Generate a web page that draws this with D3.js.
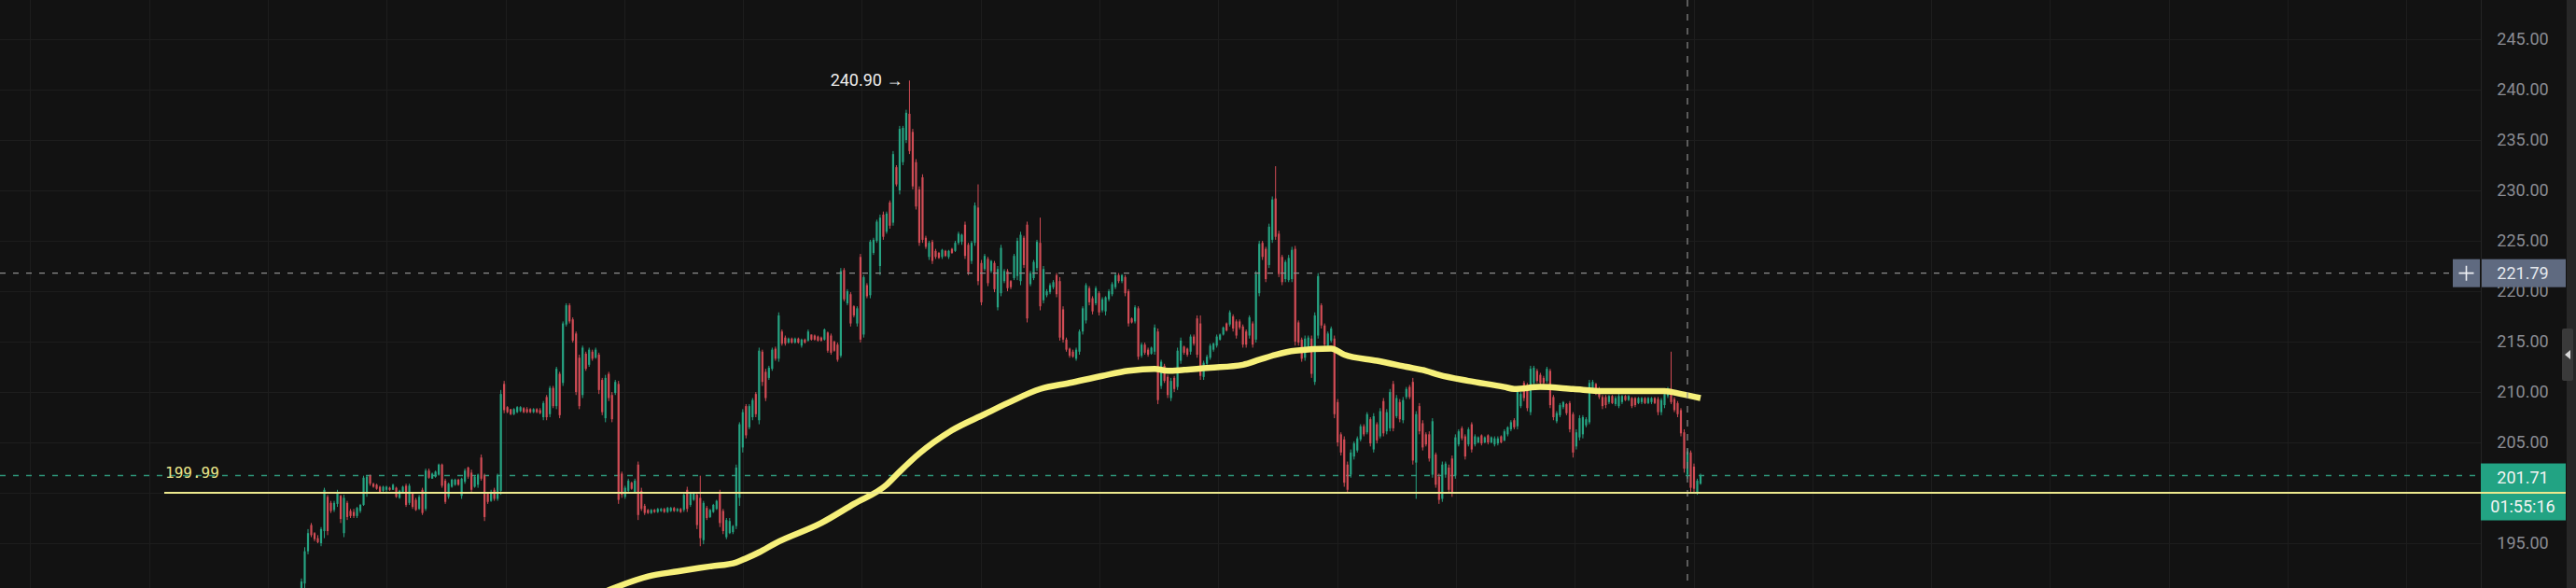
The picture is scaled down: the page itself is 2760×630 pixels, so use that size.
<!DOCTYPE html>
<html>
<head>
<meta charset="utf-8">
<script src="https://cdn.jsdelivr.net/npm/d3@7"></script>
<style>
    html, body { margin: 0; padding: 0; background: #121212; overflow: hidden; }
    svg { display: block; }
</style>
</head>
<body>
<div id="chart"></div>
<script>
// Candles (one per bar), oldest first
const opens = [
    189.0,191.0,194.2,196.8,196.0,195.5,195.0,196.2,199.6,199.0,
    198.3,198.9,199.7,196.0,199.0,198.2,198.1,197.7,198.2,198.8,
    199.9,201.7,200.9,200.8,200.6,200.2,200.3,200.5,200.3,200.5,
    199.5,200.1,200.7,199.0,199.9,199.3,198.4,200.3,198.4,202.2,
    201.4,201.6,201.8,202.8,201.2,199.6,200.6,200.8,201.3,199.7,
    201.1,202.5,202.0,200.6,200.8,203.5,201.7,199.9,199.2,200.3,
    199.4,200.2,210.8,208.5,208.3,207.8,208.0,208.1,208.4,208.3,
    208.3,208.0,208.3,208.2,207.5,209.5,207.8,210.4,208.6,211.8,
    210.9,216.7,218.6,217.2,215.8,213.4,209.7,213.8,212.7,214.0,
    213.4,213.7,211.2,207.4,211.8,209.7,209.9,210.8,201.9,199.6,
    200.2,201.0,200.1,202.8,200.2,198.7,198.3,198.0,198.3,198.1,
    198.2,198.4,198.1,198.2,198.5,198.2,198.4,198.3,200.3,198.8,
    199.3,199.8,199.5,195.3,198.5,197.6,198.1,198.4,200.0,198.2,
    195.6,196.0,196.1,196.7,199.5,204.5,208.6,206.5,207.5,209.8,
    207.2,214.0,
    212.0,211.4,212.3,214.3,213.3,216.0,215.4,214.9,215.3,214.9,
    215.3,214.6,215.2,215.1,215.7,215.6,215.5,215.4,215.2,215.9,
    215.6,215.0,214.7,213.6,222.1,218.8,219.7,218.5,216.8,223.4,
    215.7,220.6,219.6,223.8,225.0,222.5,227.6,225.9,228.8,226.8,
    232.3,230.0,232.8,235.0,237.6,235.8,232.8,230.1,231.3,225.3,
    223.4,224.9,224.0,223.8,223.4,224.0,223.4,224.2,224.0,224.8,
    224.9,226.6,224.6,223.0,224.8,228.3,222.8,222.2,223.2,222.0,
    222.8,218.4,219.8,221.0,222.0,
    221.0,221.3,221.5,221.0,225.3,226.6,220.7,221.3,222.3,224.8,
    219.1,219.6,219.9,220.4,221.6,221.0,218.2,215.2,214.3,214.0,
    213.3,214.0,216.0,217.1,220.3,219.3,218.8,219.8,218.1,218.0,
    219.2,219.7,220.4,221.6,221.0,221.4,220.0,217.3,217.0,218.3,
    213.6,214.7,214.2,213.8,214.0,216.0,210.6,212.6,211.5,209.4,
    211.4,210.5,213.1,214.5,214.3,214.0,215.5,217.3,216.8,211.5,
    212.8,213.4,214.2,214.6,215.2,215.7,216.8,216.7,217.5,217.0,
    217.0,216.5,216.0,215.6,
    216.8,215.2,219.8,224.8,224.2,222.6,225.1,229.2,225.7,223.4,
    221.2,221.1,221.2,224.2,216.9,215.2,213.4,214.2,215.3,211.0,
    215.6,218.6,216.6,214.6,215.1,215.3,209.0,205.8,205.3,202.8,
    201.8,203.6,204.2,205.3,206.6,206.0,207.3,204.3,206.8,205.6,
    209.1,206.1,206.4,210.8,207.6,209.0,207.2,209.5,210.5,211.0,
    203.0,208.6,206.9,205.8,205.8,201.8,203.8,201.6,199.4,201.8,
    202.5,203.4,201.7,204.8,206.4,205.6,204.8,206.8,204.8,205.0,
    205.7,205.0,205.7,205.0,
    204.8,204.9,205.6,205.2,205.8,206.3,207.2,206.6,208.6,210.9,
    210.7,208.0,210.9,212.1,211.7,211.4,211.1,212.1,209.5,207.1,
    207.7,208.5,208.8,208.9,207.8,204.6,205.5,205.8,206.7,207.0,
    210.2,210.8,210.3,209.5,209.5,209.0,209.6,208.8,208.6,209.0,
    209.6,209.2,209.4,209.4,208.9,209.0,209.4,208.9,209.0,209.4,
    209.3,208.0,208.7,209.6,210.3,209.3,208.9,208.2,206.0,201.8,
    204.0,202.6,200.0,200.9
];
const highs = [
    191.5,194.6,196.4,197.0,196.1,195.8,196.6,200.5,199.8,199.2,
    199.2,200.3,199.8,199.8,199.2,198.4,198.4,198.6,198.9,201.7,
    201.7,201.8,201.0,200.9,200.7,200.7,200.7,200.6,200.9,200.6,
    200.3,200.7,200.9,200.9,200.0,199.5,199.8,200.5,202.4,202.4,
    202.0,202.2,202.9,202.9,201.4,201.0,201.4,201.4,201.4,201.5,
    202.4,202.6,202.3,201.7,201.9,203.8,201.9,200.1,200.3,200.5,
    201.9,210.2,211.1,208.6,208.3,208.4,208.6,208.6,208.5,208.5,
    208.4,208.4,208.4,208.4,209.1,209.7,210.6,210.6,212.5,212.0,
    217.0,218.8,218.8,217.4,216.0,213.7,214.6,214.0,214.4,214.2,
    214.4,213.9,211.4,211.7,212.0,210.0,211.2,211.1,202.1,200.7,
    201.4,201.1,201.4,203.1,200.5,198.9,198.4,198.4,198.4,198.5,
    198.5,198.5,198.6,198.6,198.6,198.5,198.5,200.0,200.6,200.1,
    200.1,200.0,201.7,199.2,198.7,198.4,198.9,199.3,200.3,198.4,
    197.5,197.5,196.8,202.8,207.0,208.3,208.8,208.8,209.4,210.0,
    214.4,214.2,
    212.3,212.6,214.4,214.5,217.9,216.2,215.6,215.4,215.4,215.4,
    215.4,215.3,215.3,216.2,215.7,215.7,215.6,215.5,216.3,216.0,
    215.8,215.1,214.9,222.3,222.3,220.2,219.9,218.6,218.5,223.7,
    221.6,220.8,225.1,225.3,227.1,227.6,227.9,227.9,229.0,233.9,
    232.5,236.4,236.4,238.0,240.9,236.1,233.1,230.4,231.6,225.5,
    225.0,225.1,224.2,223.9,224.2,224.1,224.1,224.3,225.0,225.9,
    225.7,226.9,224.8,225.0,228.8,230.6,223.1,223.7,223.4,223.1,
    223.0,222.5,224.6,222.2,222.2,
    221.1,223.7,225.3,225.9,225.5,226.9,222.0,223.1,225.1,227.3,
    222.5,220.2,220.8,221.1,221.8,221.4,218.5,215.4,214.4,214.2,
    214.4,216.2,218.5,220.8,220.5,219.5,220.5,220.0,219.4,219.5,
    220.2,220.9,221.8,221.8,221.7,221.6,220.2,217.4,218.6,218.5,
    214.9,214.9,214.4,214.5,216.7,216.3,213.2,212.8,211.7,211.4,
    211.6,214.4,215.4,214.6,214.4,215.7,215.7,217.6,217.6,213.1,
    213.7,214.8,214.9,215.7,215.8,216.5,216.9,218.1,217.7,217.2,
    217.2,216.7,216.2,217.6,
    217.0,222.0,225.0,225.0,224.4,226.7,229.4,232.4,226.0,223.6,
    223.1,223.6,224.4,224.5,217.1,215.4,215.6,215.6,215.6,217.9,
    221.8,218.8,216.8,216.0,216.5,215.6,209.3,206.0,205.6,203.1,
    204.3,205.1,205.6,206.8,206.8,208.0,207.5,207.9,207.0,208.4,
    209.4,208.3,210.3,211.1,209.7,209.3,209.5,210.5,210.7,211.4,
    208.1,208.9,207.2,206.0,206.1,207.4,204.0,201.9,203.1,203.1,
    202.8,203.7,205.8,206.3,206.6,205.8,206.5,207.0,205.8,205.6,
    205.8,205.6,205.8,205.6,
    205.6,205.6,205.7,206.3,206.6,207.2,207.4,210.5,210.0,211.1,
    210.9,212.6,212.6,212.3,211.9,211.6,212.5,212.3,209.7,208.1,
    208.9,209.1,208.9,209.1,208.0,206.3,207.7,207.7,207.5,211.2,
    211.2,210.9,210.5,209.7,209.7,209.7,209.7,209.6,209.8,209.7,
    209.7,209.7,209.5,209.5,209.5,209.5,209.5,209.5,209.5,209.5,
    209.5,209.4,210.0,210.5,214.0,209.5,209.1,208.4,206.3,204.4,
    204.2,202.9,201.4,201.9
];
const lows = [
    188.5,190.5,193.9,195.6,195.2,195.0,194.7,195.5,195.8,198.0,
    198.1,198.6,197.0,195.6,197.3,197.5,197.5,197.5,198.0,198.7,
    199.6,200.7,200.5,200.3,200.0,200.1,200.1,200.2,200.3,199.5,
    199.4,200.0,198.6,198.8,198.4,198.2,198.3,197.8,198.2,201.4,
    201.4,201.5,201.7,200.5,198.9,199.4,200.5,200.7,200.7,199.4,
    200.9,201.4,200.1,200.5,200.5,201.2,197.2,198.9,199.1,199.2,
    199.2,199.8,207.9,207.9,207.7,207.7,207.9,208.0,207.9,207.9,
    207.9,207.9,207.9,207.8,207.2,207.2,207.5,208.4,208.3,207.4,
    210.6,216.5,216.8,214.9,209.7,208.3,209.4,212.1,212.5,213.1,
    213.3,209.8,207.7,207.0,209.1,207.0,209.7,198.9,199.5,199.4,
    200.0,200.3,200.0,197.3,198.2,197.8,197.9,197.9,198.0,198.0,
    198.1,198.0,198.0,198.1,198.1,198.1,198.0,198.1,198.1,198.6,
    199.2,196.4,194.7,194.9,197.3,197.5,198.0,198.3,196.6,195.9,
    195.4,195.9,195.9,196.4,198.7,204.0,205.4,206.3,207.2,207.5,
    206.8,210.6,
    209.1,211.2,212.1,213.1,213.0,214.6,214.6,214.8,214.8,214.8,
    214.8,214.4,214.8,215.0,215.1,215.1,215.0,215.0,215.1,213.9,
    213.7,214.0,213.0,213.4,219.0,218.6,216.5,217.4,216.5,214.9,
    215.4,219.3,219.3,223.6,224.8,221.6,225.1,225.7,226.2,226.5,
    230.4,229.6,232.5,234.7,233.6,230.1,228.1,224.5,224.8,224.2,
    223.1,222.7,223.2,223.2,223.2,223.4,223.2,223.7,223.9,224.6,
    224.6,223.2,221.6,222.7,224.5,220.6,218.6,222.0,220.5,221.8,
    219.9,218.1,219.5,220.8,220.0,
    220.2,221.1,221.1,220.6,222.3,216.9,220.5,221.1,222.0,218.1,
    218.8,219.4,219.7,220.2,219.4,215.1,214.9,214.0,213.4,213.4,
    213.1,213.7,215.7,216.8,218.6,217.7,218.6,217.6,217.9,217.6,
    219.0,219.5,220.2,220.8,220.8,219.5,216.5,216.8,216.8,213.2,
    213.4,213.7,213.5,213.7,213.7,208.8,210.3,210.9,209.4,209.1,
    210.0,210.2,212.8,213.7,213.5,213.7,214.6,213.4,211.2,211.2,
    212.6,213.2,214.0,214.4,215.1,215.6,216.0,216.5,216.0,215.3,
    216.2,214.4,214.4,215.3,
    214.4,214.9,219.5,223.1,220.9,222.3,224.8,225.1,221.4,220.6,
    220.9,220.9,220.9,214.6,214.6,213.0,213.1,214.0,211.4,210.7,
    215.3,216.3,214.4,214.4,214.9,207.4,204.6,203.7,200.6,200.0,
    201.5,203.3,204.0,205.1,205.6,205.8,204.6,204.0,204.9,205.4,
    205.6,205.8,206.1,206.1,207.4,207.0,206.9,209.3,209.3,202.8,
    199.4,205.8,204.2,204.6,203.1,201.5,200.5,198.9,199.1,201.5,
    200.0,199.6,201.4,204.6,205.2,203.3,204.6,204.0,204.6,204.9,
    204.7,204.9,204.8,204.9,
    204.6,204.7,204.9,205.1,205.6,206.1,206.3,206.3,208.4,209.1,
    208.1,207.7,210.6,210.9,210.7,210.7,210.9,208.4,207.2,206.9,
    207.5,208.3,207.7,206.0,203.5,204.3,205.2,205.4,206.5,206.8,
    210.0,209.7,209.3,208.3,208.4,208.8,208.8,208.6,208.4,208.8,
    209.1,209.1,208.4,208.5,208.8,208.8,208.8,208.8,208.8,208.8,
    207.7,207.7,208.4,209.4,208.8,208.0,207.5,205.6,202.0,201.4,
    200.1,200.0,199.8,200.8
];
const closes = [
    191.2,194.2,196.0,195.8,195.4,195.1,196.4,200.3,196.2,198.2,
    199.0,200.1,197.4,199.5,197.6,197.7,197.7,198.5,198.8,201.5,
    201.6,200.9,200.6,200.4,200.1,200.6,200.6,200.3,200.8,199.6,
    200.2,200.6,198.8,200.7,198.6,198.3,199.6,198.0,202.2,201.5,
    201.9,202.1,202.8,200.7,199.1,200.9,201.3,201.3,200.8,201.4,
    202.2,201.6,200.3,201.6,201.8,201.4,197.6,199.1,200.1,199.4,
    201.7,209.8,208.2,208.0,207.8,208.3,208.5,208.5,208.0,208.0,
    208.0,208.3,208.0,207.9,208.9,207.5,210.4,208.6,212.3,207.7,
    216.8,218.6,217.0,215.1,210.0,208.6,214.4,212.3,214.2,213.3,
    214.2,210.2,208.0,211.4,209.4,207.3,211.0,199.3,199.8,200.5,
    201.2,200.4,201.2,197.8,198.4,198.0,198.0,198.3,198.1,198.4,
    198.4,198.1,198.5,198.5,198.2,198.4,198.1,199.8,198.4,199.9,
    200.0,196.8,195.5,199.0,197.5,198.3,198.8,199.2,197.0,196.2,
    197.3,197.2,196.7,202.5,206.8,208.0,205.7,208.6,209.2,207.8,
    214.1,211.0,
    209.4,212.4,214.2,213.3,217.6,214.8,214.8,215.3,214.9,215.3,
    214.9,215.2,214.9,216.0,215.2,215.2,215.1,215.1,216.2,214.1,
    213.9,214.1,213.2,222.0,219.2,220.0,216.8,217.6,218.3,215.2,
    221.4,219.5,224.9,225.1,226.9,227.3,225.4,227.7,226.5,233.6,
    230.6,236.1,236.2,237.7,233.9,230.4,228.4,224.8,225.1,224.4,
    224.8,223.0,223.4,223.3,224.1,223.5,224.0,223.8,224.8,225.7,
    225.6,223.5,221.9,224.8,228.5,221.0,218.9,223.5,220.8,223.0,
    220.2,222.2,224.3,222.0,220.3,
    220.4,223.5,225.0,225.6,222.6,217.3,221.8,222.9,224.9,218.5,
    222.2,220.0,220.6,220.9,219.7,215.4,215.2,214.2,213.6,213.5,
    214.2,216.0,218.3,220.6,218.9,218.0,220.3,217.9,219.2,219.4,
    220.0,220.7,221.6,221.0,221.6,219.8,216.8,216.9,218.4,213.5,
    214.7,213.9,213.7,214.4,216.4,209.2,213.0,211.1,209.7,211.1,
    210.3,214.1,215.1,213.9,213.7,215.5,214.8,213.7,211.6,212.9,
    213.5,214.6,214.8,215.5,215.7,216.4,216.1,217.9,216.3,215.6,
    216.4,214.7,214.7,217.4,
    214.7,221.7,224.7,223.4,221.2,226.4,229.1,225.4,221.7,220.9,
    222.9,223.3,224.1,215.0,214.9,213.3,215.3,215.4,211.8,217.6,
    221.5,216.6,214.7,215.8,216.3,207.8,205.0,204.0,201.0,200.3,
    204.0,204.9,205.4,206.6,205.8,207.8,204.9,207.6,205.2,208.1,
    205.9,208.0,210.0,206.4,209.4,207.3,209.2,210.3,209.5,203.2,
    207.8,206.1,204.5,204.8,203.4,207.1,200.8,199.3,202.8,202.9,
    200.3,200.0,205.5,206.1,205.4,203.6,206.3,204.3,205.6,205.5,
    204.9,205.5,205.0,205.5,
    205.4,205.4,205.0,206.1,206.5,207.0,206.5,210.2,209.8,209.4,
    208.4,212.3,212.4,211.1,210.9,210.9,212.3,208.7,207.5,207.9,
    208.7,209.0,207.9,206.3,204.0,206.0,207.4,207.5,207.3,210.9,
    211.0,209.9,209.5,208.6,208.7,209.6,208.9,209.4,209.6,209.6,
    209.2,209.6,208.6,208.7,209.4,209.4,208.9,209.4,209.4,208.9,
    208.0,209.2,209.8,210.3,209.0,208.2,207.8,205.9,202.4,204.1,
    200.5,200.4,201.2,201.71
];

// Moving average (bar index, value)
const maIndex = [88, 96, 106, 115, 125, 133, 136, 140, 145, 159, 169, 179, 183, 189, 199,
    209, 216, 226, 235, 245, 253, 261, 265, 270, 278, 288, 293, 298, 304, 315, 319,
    329, 338, 344, 348, 357, 368, 371, 379, 389, 398, 408, 417, 422, 428];
const maValues = [189.5, 190.6, 191.7, 192.2, 192.7, 193.1, 193.5, 194.1, 195.0, 197.0, 198.9,
    200.8, 202.1, 203.9, 206.2, 207.8, 208.9, 210.3, 210.9, 211.6, 212.1, 212.3, 212.1,
    212.2, 212.4, 212.7, 213.2, 213.7, 214.1, 214.3, 213.7, 213.1, 212.5, 212.1, 211.7,
    211.1, 210.5, 210.3, 210.5, 210.3, 210.1, 210.1, 210.1, 209.8, 209.4];

const priceTicks = [195, 200, 205, 210, 215, 220, 225, 230, 235, 240, 245];
const alertPrice = 199.99;
const crossPrice = 221.79;
const crossIndex = 424;
const countdown = "01:55:16";

// ---- layout ----
const width = 2760, height = 630;
const plotRight = 2658, axisRight = 2749;
const bg = "#121212", grid = "#1d1d1d";
const up = "#26a382", down = "#d14c55";
const fmt = d3.format(".2f");

const x = d3.scaleLinear().domain([0, closes.length - 1]).range([323, 1822]);
const y = d3.scaleLinear().domain([190.556, 248.889]).range([height, 0]);

const svg = d3.select("#chart").append("svg")
    .attr("width", width).attr("height", height)
    .style("font-family", "Roboto, sans-serif");

svg.append("rect").attr("width", width).attr("height", height).attr("fill", bg);

svg.append("clipPath").attr("id", "plotClip")
    .append("rect").attr("width", plotRight).attr("height", height);

const plot = svg.append("g").attr("clip-path", "url(#plotClip)");

// vertical time grid (every ~36 bars)
const timeGrid = d3.range(-2, 19).map((k) => -10.28 + k * 36.345);
plot.append("g").selectAll("line").data(timeGrid).join("line")
    .attr("x1", (d) => Math.round(x(d)) + 0.5).attr("x2", (d) => Math.round(x(d)) + 0.5)
    .attr("y1", 0).attr("y2", height)
    .attr("stroke", grid).attr("stroke-width", 1);

// horizontal price grid
plot.append("g").selectAll("line").data(priceTicks).join("line")
    .attr("x1", 0).attr("x2", plotRight)
    .attr("y1", (d) => Math.round(y(d)) + 0.5).attr("y2", (d) => Math.round(y(d)) + 0.5)
    .attr("stroke", grid).attr("stroke-width", 1);

// last price dashed line
const last = closes[closes.length - 1];
plot.append("line")
    .attr("x1", 0).attr("x2", plotRight)
    .attr("y1", y(last)).attr("y2", y(last))
    .attr("stroke", "#2e9479").attr("stroke-width", 1.5)
    .attr("stroke-dasharray", "6,8");

// candles
const candles = closes.map((c, i) => ({ i, o: opens[i], h: highs[i], l: lows[i], c }));
const color = (d) => (d.c >= d.o ? up : down);

plot.append("g").selectAll("line").data(candles).join("line")
    .attr("x1", (d) => x(d.i)).attr("x2", (d) => x(d.i))
    .attr("y1", (d) => y(d.h)).attr("y2", (d) => y(d.l))
    .attr("stroke", color).attr("stroke-width", 1);

plot.append("g").selectAll("rect").data(candles).join("rect")
    .attr("x", (d) => x(d.i) - 1.1).attr("width", 2.2)
    .attr("y", (d) => y(Math.max(d.o, d.c)))
    .attr("height", (d) => Math.max(1, Math.abs(y(d.o) - y(d.c))))
    .attr("fill", color);

// moving average
const maLine = d3.line()
    .x((d) => x(d[0])).y((d) => y(d[1]))
    .curve(d3.curveMonotoneX);
plot.append("path")
    .datum(maIndex.map((d, i) => [d, maValues[i]]))
    .attr("d", maLine)
    .attr("fill", "none")
    .attr("stroke", "#f6f07a")
    .attr("stroke-width", 6.5)
    .attr("stroke-linejoin", "round");

// high marker
const hiIdx = d3.maxIndex(highs);
svg.append("text")
    .attr("x", x(hiIdx) - 7).attr("y", y(highs[hiIdx]) + 6)
    .attr("text-anchor", "end")
    .attr("fill", "#eeeeee").attr("font-size", 18)
    .text(`${fmt(highs[hiIdx])} \u2192`);

// crosshair
plot.append("line")
    .attr("x1", 0).attr("x2", 2628)
    .attr("y1", y(crossPrice)).attr("y2", y(crossPrice))
    .attr("stroke", "#8d8d8d").attr("stroke-width", 1.2)
    .attr("stroke-dasharray", "6,8");
plot.append("line")
    .attr("x1", x(crossIndex)).attr("x2", x(crossIndex))
    .attr("y1", 0).attr("y2", height)
    .attr("stroke", "#8d8d8d").attr("stroke-width", 1.2)
    .attr("stroke-dasharray", "7,8");

// price axis
svg.append("line")
    .attr("x1", plotRight + 0.5).attr("x2", plotRight + 0.5)
    .attr("y1", 0).attr("y2", height)
    .attr("stroke", "#242424");

svg.append("g").selectAll("text").data(priceTicks).join("text")
    .attr("x", 2703).attr("y", (d) => y(d))
    .attr("dy", "0.35em")
    .attr("text-anchor", "middle")
    .attr("fill", "#8a8c93").attr("font-size", 18)
    .text((d) => fmt(d));

// crosshair labels
const cy = y(crossPrice);
svg.append("rect")
    .attr("x", 2628).attr("y", cy - 15).attr("width", 29).attr("height", 30)
    .attr("fill", "#5f6a80");
svg.append("path")
    .attr("d", `M${2642.5},${cy - 8}V${cy + 8}M${2634.5},${cy}H${2650.5}`)
    .attr("stroke", "#eef0f4").attr("stroke-width", 1.6);
svg.append("rect")
    .attr("x", plotRight + 1).attr("y", cy - 15).attr("width", axisRight - plotRight - 1).attr("height", 30)
    .attr("fill", "#5f6a80");
svg.append("text")
    .attr("x", 2703).attr("y", cy).attr("dy", "0.36em")
    .attr("text-anchor", "middle")
    .attr("fill", "#e6e9ee").attr("font-size", 18)
    .text(fmt(crossPrice));

// last price labels
const ly = y(last);
svg.append("rect")
    .attr("x", plotRight).attr("y", ly - 13).attr("width", axisRight - plotRight).attr("height", 61)
    .attr("fill", "#22a383");
svg.append("text")
    .attr("x", 2703).attr("y", ly + 2).attr("dy", "0.36em")
    .attr("text-anchor", "middle")
    .attr("fill", "#f4f4f4").attr("font-size", 18)
    .text(fmt(last));
svg.append("text")
    .attr("x", 2703).attr("y", ly + 33).attr("dy", "0.36em")
    .attr("text-anchor", "middle")
    .attr("fill", "#f4f4f4").attr("font-size", 18)
    .text(countdown);

// alert line
svg.append("line")
    .attr("x1", 176).attr("x2", axisRight)
    .attr("y1", y(alertPrice)).attr("y2", y(alertPrice))
    .attr("stroke", "#ece88e").attr("stroke-width", 2);
svg.append("text")
    .attr("x", 177).attr("y", y(alertPrice) - 16)
    .attr("fill", "#e8e48a").attr("font-size", 16)
    .attr("font-family", "'DejaVu Sans Mono', monospace")
    .text(fmt(alertPrice));

// right scroll strip
svg.append("rect")
    .attr("x", 2750).attr("y", 0).attr("width", 10).attr("height", height)
    .attr("fill", "#272727");
svg.append("rect")
    .attr("x", 2745).attr("y", 352).attr("width", 12).attr("height", 56).attr("rx", 2)
    .attr("fill", "#3a3a3a");
svg.append("path")
    .attr("d", "M2748,380L2754,375L2754,385Z")
    .attr("fill", "#d8d8d8");
</script>
</body>
</html>
